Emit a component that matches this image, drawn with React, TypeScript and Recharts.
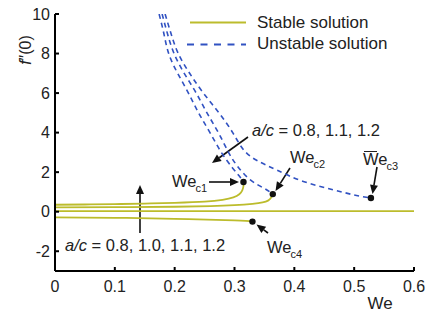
import React from "react";
import { ComposedChart, Customized, Line, ReferenceDot, XAxis, YAxis } from "recharts";

const FONT = '"Liberation Sans", Arial, Helvetica, sans-serif';
const YELLOW = "#bcbc2c";
const BLUE = "#3152c2";

const weTicks = [0, 0.1, 0.2, 0.3, 0.4, 0.5, 0.6];
const fTicks = [-2, 0, 2, 4, 6, 8, 10];

// stable branches, [We, f''(0)]
const stableC1 = [
  [0, 0.35], [0.05, 0.365], [0.1, 0.385], [0.15, 0.41], [0.2, 0.45], [0.25, 0.51],
  [0.28, 0.6], [0.298, 0.72], [0.308, 0.88], [0.313, 1.08], [0.315, 1.3], [0.315, 1.5],
];
const stableC2 = [
  [0, 0.22], [0.1, 0.23], [0.2, 0.25], [0.26, 0.28], [0.3, 0.33], [0.33, 0.4],
  [0.347, 0.47], [0.356, 0.56], [0.361, 0.7], [0.364, 0.89],
];
const stableFlat = [[0, 0.03], [0.6, 0.03]];
const stableC4 = [[0, -0.29], [0.1, -0.31], [0.2, -0.36], [0.3, -0.44], [0.33, -0.5]];

// unstable branches
const unstableC1 = [
  [0.174, 10], [0.182, 9], [0.19, 8], [0.205, 7], [0.223, 6], [0.24, 5],
  [0.259, 4], [0.278, 3], [0.297, 2.2], [0.308, 1.8], [0.315, 1.5],
];
const unstableC2 = [
  [0.179, 10], [0.188, 9], [0.199, 8], [0.216, 7], [0.236, 6], [0.254, 5],
  [0.273, 4], [0.29, 3], [0.305, 2.3], [0.326, 1.62], [0.348, 1.21], [0.364, 0.89],
];
const unstableC3 = [
  [0.184, 10], [0.194, 9], [0.206, 8], [0.225, 7], [0.248, 6], [0.274, 5],
  [0.297, 4], [0.316, 3.1], [0.34, 2.55], [0.371, 2.1], [0.415, 1.53],
  [0.465, 1.11], [0.498, 0.86], [0.528, 0.69],
];

const criticalPoints = [[0.315, 1.5], [0.364, 0.89], [0.528, 0.69], [0.33, -0.5]];

const toRows = (pts: number[][]) => pts.map(([x, y]) => ({ x, y }));

const YTick = (props: any) => {
  const { x, y, payload } = props;
  return (
    <g>
      <line x1={x + 4} x2={x + 8} y1={y} y2={y} stroke="#000" strokeWidth={2} />
      <text x={x - 1} y={y} textAnchor="end" dominantBaseline="central" fontSize={16} fontFamily={FONT} fill="#222">
        {payload.value}
      </text>
    </g>
  );
};

const XTick = (props: any) => {
  const { x, y, payload } = props;
  return (
    <g>
      <line x1={x} x2={x} y1={y - 9} y2={y - 13} stroke="#000" strokeWidth={2} />
      <text x={x} y={y} dy="0.72em" textAnchor="middle" fontSize={16} fontFamily={FONT} fill="#222">
        {payload.value === 0 ? "0" : payload.value.toFixed(1)}
      </text>
    </g>
  );
};

function Arrow({ x1, y1, x2, y2 }: { x1: number; y1: number; x2: number; y2: number }) {
  const a = Math.atan2(y2 - y1, x2 - x1);
  const len = 9;
  const w = 4;
  const bx = x2 - len * Math.cos(a);
  const by = y2 - len * Math.sin(a);
  const px = -Math.sin(a) * w;
  const py = Math.cos(a) * w;
  return (
    <g>
      <line x1={x1} y1={y1} x2={bx} y2={by} stroke="#111" strokeWidth={1.6} />
      <polygon points={`${x2},${y2} ${bx + px},${by + py} ${bx - px},${by - py}`} fill="#111" />
    </g>
  );
}

function We({ x, y, sub, bar }: { x: number; y: number; sub: string; bar?: boolean }) {
  return (
    <g fontFamily={FONT} fill="#222">
      <text x={x} y={y} fontSize={16.5}>We</text>
      <text x={x + 23.5} y={y + 5} fontSize={11}>{sub}</text>
      {bar && <line x1={x + 1} x2={x + 14} y1={y - 13.5} y2={y - 13.5} stroke="#222" strokeWidth={1} />}
    </g>
  );
}

function Annotations() {
  return (
    <g>
      {/* legend */}
      <line x1={190} x2={246} y1={22.5} y2={22.5} stroke={YELLOW} strokeWidth={2} />
      <line x1={187} x2={246} y1={44.5} y2={44.5} stroke={BLUE} strokeWidth={2} strokeDasharray="7 6.5" />
      <text x={257} y={22.5} dominantBaseline="central" fontSize={17} fontFamily={FONT} fill="#222">Stable solution</text>
      <text x={257} y={43.5} dominantBaseline="central" fontSize={17} fontFamily={FONT} fill="#222">Unstable solution</text>

      {/* axis labels */}
      <text x={25} y={50} transform="rotate(-90 25 50)" textAnchor="middle" dominantBaseline="central" fontSize={16} fontFamily={FONT} fill="#222">
        <tspan fontStyle="italic">f</tspan>″(0)
      </text>
      <text x={380} y={309} textAnchor="middle" fontSize={17} fontFamily={FONT} fill="#222">We</text>

      {/* a/c labels */}
      <text x={252} y={135.5} fontSize={16.5} fontFamily={FONT} fill="#222">
        <tspan fontStyle="italic">a/c</tspan> = 0.8, 1.1, 1.2
      </text>
      <text x={65} y={251} fontSize={16.5} fontFamily={FONT} fill="#222">
        <tspan fontStyle="italic">a/c</tspan> = 0.8, 1.0, 1.1, 1.2
      </text>
      <Arrow x1={248} y1={137} x2={212} y2={163} />
      <Arrow x1={140} y1={233} x2={140} y2={185} />

      {/* critical points */}
      <We x={172} y={186.5} sub="c1" />
      <Arrow x1={209} y1={182} x2={239} y2={182} />
      <We x={290} y={163} sub="c2" />
      <Arrow x1={290} y1={168} x2={275.5} y2={191} />
      <We x={363} y={165} sub="c3" bar />
      <Arrow x1={377} y1={167} x2={372.5} y2={194} />
      <We x={267} y={253} sub="c4" />
      <Arrow x1={268} y1={233} x2={256.5} y2={224.5} />
    </g>
  );
}

export default function App() {
  return (
    <div style={{ position: "absolute", left: 0, top: 0, width: 427, height: 313, background: "#fff" }}>
      <ComposedChart width={427} height={313} margin={{ top: 14, right: 13, left: 10, bottom: 2 }}>
        <XAxis
          dataKey="x"
          type="number"
          domain={[0, 0.6]}
          ticks={weTicks}
          tick={<XTick />}
          tickLine={false}
          tickSize={0}
          tickMargin={9}
          height={40}
          axisLine={{ stroke: "#000", strokeWidth: 2 }}
          allowDataOverflow
        />
        <YAxis
          type="number"
          domain={[-3, 10]}
          ticks={fTicks}
          tick={<YTick />}
          tickLine={false}
          tickSize={0}
          tickMargin={4}
          width={45}
          axisLine={{ stroke: "#000", strokeWidth: 2 }}
          allowDataOverflow
        />
        {[stableC1, stableC2, stableFlat, stableC4].map((pts, i) => (
          <Line
            key={`s${i}`}
            data={toRows(pts)}
            dataKey="y"
            type="natural"
            stroke={YELLOW}
            strokeWidth={1.8}
            dot={false}
            activeDot={false}
            isAnimationActive={false}
          />
        ))}
        {[unstableC1, unstableC2, unstableC3].map((pts, i) => (
          <Line
            key={`u${i}`}
            data={toRows(pts)}
            dataKey="y"
            type="natural"
            stroke={BLUE}
            strokeWidth={1.6}
            strokeDasharray="5 4"
            dot={false}
            activeDot={false}
            isAnimationActive={false}
          />
        ))}
        {criticalPoints.map(([x, y], i) => (
          <ReferenceDot key={`c${i}`} x={x} y={y} r={3.2} fill="#111" stroke="none" />
        ))}
        <Customized component={<Annotations />} />
      </ComposedChart>
    </div>
  );
}
